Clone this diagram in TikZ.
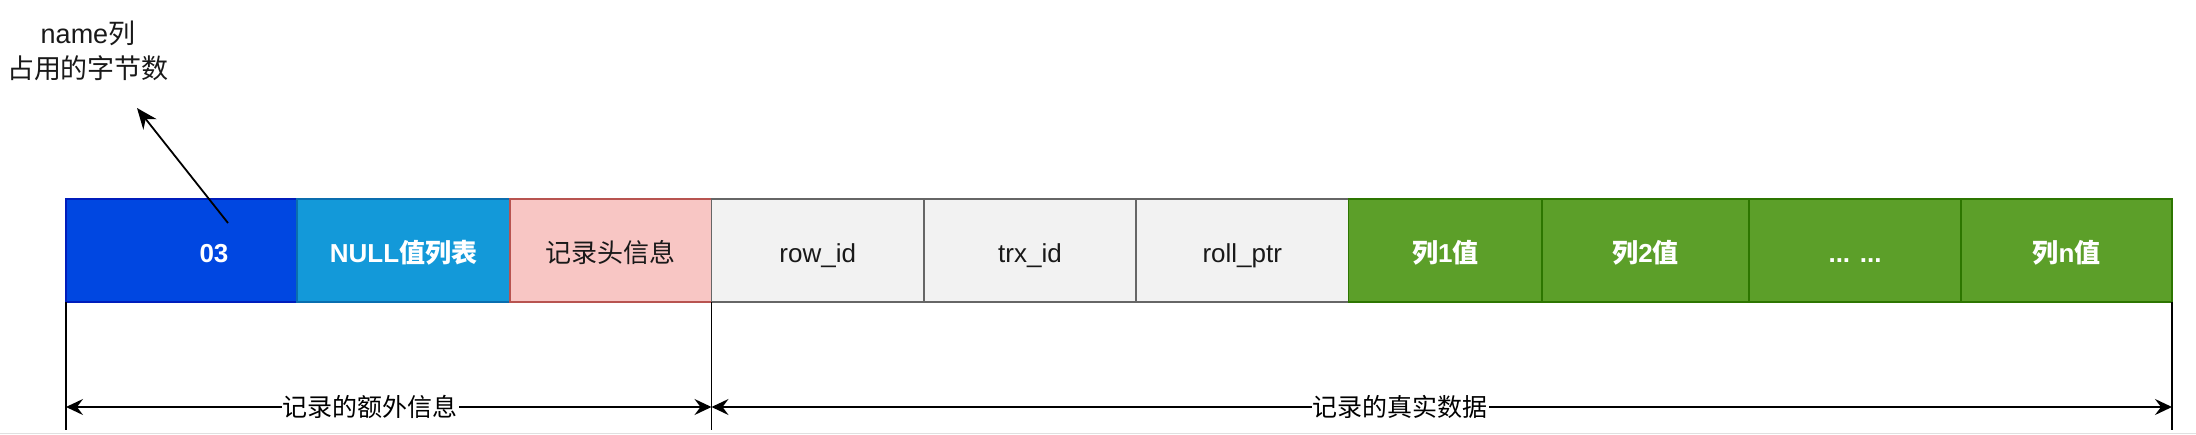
\documentclass[tikz,border=0pt]{standalone}
\usepackage{fontspec}
\setmainfont{Liberation Sans}
\newfontfamily\cjk{Noto Sans CJK SC}
\usetikzlibrary{arrows.meta}
\definecolor{blueF}{HTML}{0047E1}
\definecolor{blueD}{HTML}{001DBC}
\definecolor{nullF}{HTML}{1399D9}
\definecolor{nullD}{HTML}{0A6EAF}
\definecolor{pinkF}{HTML}{F8C6C4}
\definecolor{pinkD}{HTML}{B85450}
\definecolor{grayF}{HTML}{F2F2F2}
\definecolor{grayD}{HTML}{666666}
\definecolor{greenF}{HTML}{5C9F29}
\definecolor{greenD}{HTML}{2D7600}
\tikzset{
  cell/.style={draw, line width=1.5pt, minimum height=103pt, inner sep=0pt, outer sep=0pt, anchor=west,
    text height=24pt, text depth=0pt, font=\fontsize{26}{31}\selectfont},
  wtxt/.style={text=white, text height=24pt, text depth=0pt, font=\fontsize{26}{31}\selectfont\bfseries},
  btxt/.style={text=black!90, font=\fontsize{26}{31}\selectfont},
  guide/.style={line width=1.6pt, black},
  dim/.style={line width=1.8pt, black, {Stealth[length=17pt,width=16pt,inset=6pt]}-{Stealth[length=17pt,width=16pt,inset=6pt]}},
  lbl/.style={fill=white, inner sep=1pt, font=\fontsize{25}{30}\selectfont\cjk}
}
\begin{document}
\begin{tikzpicture}[x=1pt,y=-1pt]
\useasboundingbox[fill=white] (0,0) rectangle (2196,434);
\draw[black!12, line width=1pt] (0,433) -- (2196,433);
% boxes
\node[cell, fill=blueF, draw=blueD, minimum width=231pt] (b1) at (66,250.5) {};
\node[wtxt, inner sep=0pt] (t1) at (214,250.5) {03};
\node[cell, fill=nullF, draw=nullD, minimum width=213pt, wtxt] (b2) at (297,250.5) {NULL{\cjk\bfseries 值列表}};
\node[cell, fill=pinkF, draw=pinkD, minimum width=201.5pt, btxt] (b3) at (510,250.5) {\cjk 记录头信息};
\node[cell, fill=grayF, draw=grayD, minimum width=212.5pt, btxt] (b4) at (711.5,250.5) {row\_id};
\node[cell, fill=grayF, draw=grayD, minimum width=212pt, btxt] (b5) at (924,250.5) {trx\_id};
\node[cell, fill=grayF, draw=grayD, minimum width=212.5pt, btxt] (b6) at (1136,250.5) {roll\_ptr};
\node[cell, fill=greenF, draw=greenD, minimum width=193.5pt, wtxt] (b7) at (1348.5,250.5) {{\cjk\bfseries 列}1{\cjk\bfseries 值}};
\node[cell, fill=greenF, draw=greenD, minimum width=207pt, wtxt] (b8) at (1542,250.5) {{\cjk\bfseries 列}2{\cjk\bfseries 值}};
\node[cell, fill=greenF, draw=greenD, minimum width=212pt, wtxt] (b9) at (1749,250.5) {... ...};
\node[cell, fill=greenF, draw=greenD, minimum width=211pt, wtxt] (b10) at (1961,250.5) {{\cjk\bfseries 列}n{\cjk\bfseries 值}};
% top annotation
\node[btxt, align=center, font=\fontsize{27}{35}\selectfont] (note) at (88,51) {name{\cjk 列}\\{\cjk 占用的字节数}};
\coordinate (ns) at (228,223);
\coordinate (ne) at (137,108);
\draw[line width=1.8pt, -{Stealth[length=21pt,width=17pt,inset=7pt]}] (ns) -- (ne);
% guide lines
\coordinate (g1) at (66,430);
\coordinate (g2) at (711.5,430);
\coordinate (g3) at (2172,430);
\draw[guide] (b1.south west) -- (g1);
\draw[guide] (b4.south west) -- (g2);
\draw[guide] (b10.south east) -- (g3);
% dimension arrows
\coordinate (d1) at (66,407);
\coordinate (d2) at (711.5,407);
\coordinate (d3) at (2172,407);
\draw[dim] (d1) -- node[lbl, pos=0.471] (L1) {记录的额外信息} (d2);
\draw[dim] (d2) -- node[lbl, pos=0.4716] (L2) {记录的真实数据} (d3);
\end{tikzpicture}
\end{document}
